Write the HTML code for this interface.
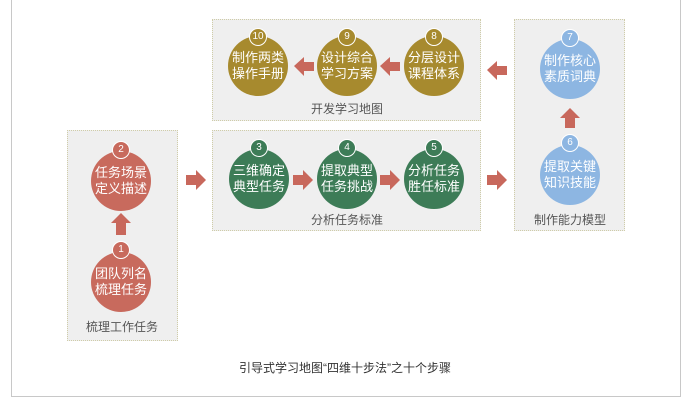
<!DOCTYPE html>
<html><head><meta charset="utf-8"><style>
body{margin:0;width:690px;height:401px;background:#fff;position:relative;overflow:hidden;font-family:"Liberation Sans","Noto Sans CJK SC",sans-serif}
.frame{position:absolute;left:11px;top:-2px;width:668px;height:397px;border:1px solid #c8c8c8}
.box{position:absolute;background:#efefef;border:1px dotted #cfcca8;box-sizing:border-box}
.lbl{position:absolute;font-size:12px;color:#555;transform:translateX(-50%);white-space:nowrap}
.c{position:absolute;width:60px;height:60px;border-radius:50%;color:#fff;font-size:13px;line-height:16px;text-align:center;display:flex;align-items:center;justify-content:center;transform:translate(-50%,-50%)}
.n{position:absolute;width:16px;height:16px;border-radius:50%;border:1.5px solid #fff;color:#fff;font-size:10px;line-height:16px;text-align:center;transform:translate(-50%,-50%)}
.r{background:#c86a5d}.g{background:#a78a2e}.gr{background:#3d7c57}.b{background:#8db6e2}
svg{position:absolute;left:0;top:0}
.cap{position:absolute;top:359px;left:345px;transform:translateX(-50%);font-size:12px;color:#333;white-space:nowrap}
</style></head><body>
<div class="frame"></div>
<div class="box" style="left:67px;top:130px;width:111px;height:211px"></div>
<div class="box" style="left:212px;top:19px;width:269px;height:102px"></div>
<div class="box" style="left:212px;top:130px;width:269px;height:101px"></div>
<div class="box" style="left:514px;top:19px;width:111px;height:212px"></div>

<div class="c g" style="left:258px;top:66px">制作两类<br>操作手册</div><div class="n g" style="left:258px;top:37px">10</div>
<div class="c g" style="left:347px;top:66px">设计综合<br>学习方案</div><div class="n g" style="left:347px;top:37px">9</div>
<div class="c g" style="left:434px;top:66px">分层设计<br>课程体系</div><div class="n g" style="left:434px;top:37px">8</div>
<div class="c gr" style="left:259px;top:179px">三维确定<br>典型任务</div><div class="n gr" style="left:259px;top:148px">3</div>
<div class="c gr" style="left:347px;top:179px">提取典型<br>任务挑战</div><div class="n gr" style="left:347px;top:148px">4</div>
<div class="c gr" style="left:434px;top:179px">分析任务<br>胜任标准</div><div class="n gr" style="left:434px;top:148px">5</div>
<div class="c r" style="left:121px;top:181px">任务场景<br>定义描述</div><div class="n r" style="left:121px;top:150px">2</div>
<div class="c r" style="left:121px;top:282px">团队列名<br>梳理任务</div><div class="n r" style="left:121px;top:250px">1</div>
<div class="c b" style="left:570px;top:69px">制作核心<br>素质词典</div><div class="n b" style="left:570px;top:38px">7</div>
<div class="c b" style="left:570px;top:175px">提取关键<br>知识技能</div><div class="n b" style="left:570px;top:143px">6</div>

<div class="lbl" style="left:347px;top:100px">开发学习地图</div>
<div class="lbl" style="left:347px;top:211px">分析任务标准</div>
<div class="lbl" style="left:122px;top:318px">梳理工作任务</div>
<div class="lbl" style="left:570px;top:211px">制作能力模型</div>

<svg width="690" height="401" fill="#c8685c">
<polygon points="294,66 304,57 304,62 314,62 314,71 304,71 304,76"/>
<polygon points="380,66 390,57 390,62 400,62 400,71 390,71 390,76"/>
<polygon points="487,70 497,61 497,66 507,66 507,75 497,75 497,80"/>
<polygon points="186,175 196,175 196,170 206,180 196,190 196,185 186,185"/>
<polygon points="293,175 303,175 303,170 313,180 303,190 303,185 293,185"/>
<polygon points="380,175 390,175 390,170 400,180 390,190 390,185 380,185"/>
<polygon points="487,175 497,175 497,170 507,180 497,190 497,185 487,185"/>
<polygon points="121,213 131,223 126,223 126,235 116,235 116,223 111,223"/>
<polygon points="570,108 580,118 575,118 575,128 565,128 565,118 560,118"/>
</svg>
<div class="cap">引导式学习地图“四维十步法”之十个步骤</div>
</body></html>
